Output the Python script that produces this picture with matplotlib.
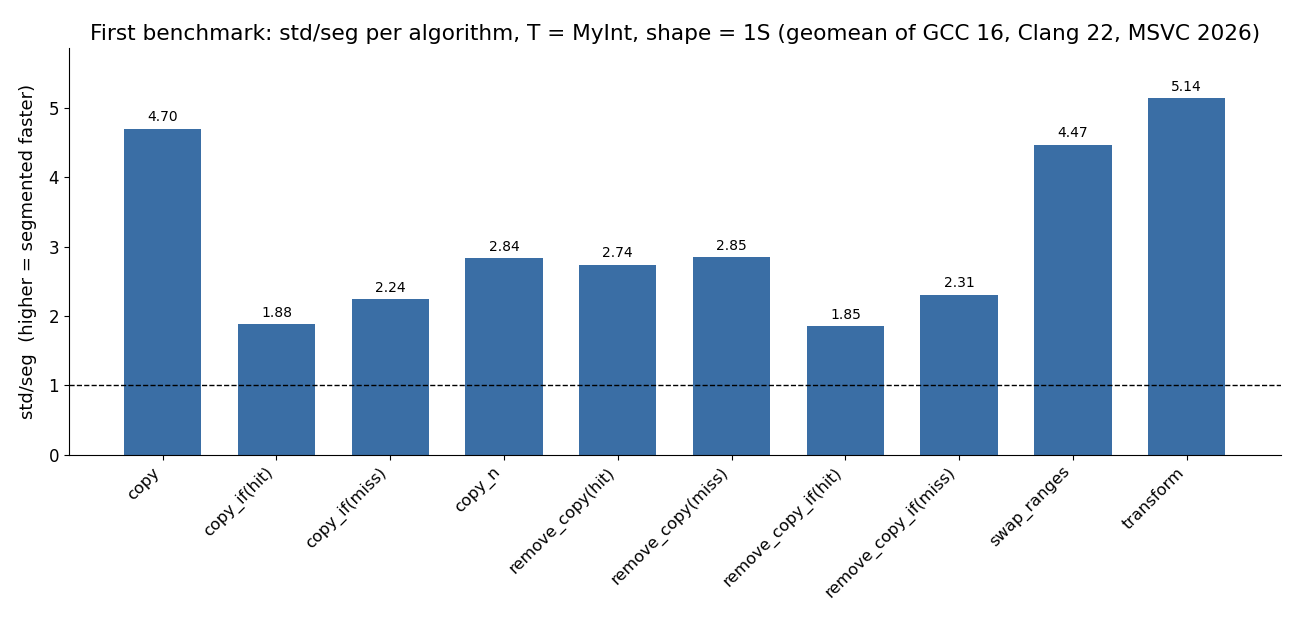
import matplotlib
matplotlib.use("Agg")
import matplotlib.pyplot as plt

algorithms = ["copy", "copy_if(hit)", "copy_if(miss)", "copy_n", "remove_copy(hit)",
              "remove_copy(miss)", "remove_copy_if(hit)", "remove_copy_if(miss)",
              "swap_ranges", "transform"]
ratios = [4.70, 1.88, 2.24, 2.84, 2.74, 2.85, 1.85, 2.31, 4.47, 5.14]

fig = plt.figure(figsize=(13, 6.24), dpi=100)
ax = fig.add_axes([0.053, 0.271, 0.932, 0.652])

x = range(len(algorithms))
bars = ax.bar(x, ratios, width=0.68, color="#3a6ea5")
ax.bar_label(bars, labels=[f"{v:.2f}" for v in ratios], padding=3, fontsize=10)
ax.axhline(1.0, color="black", linestyle="--", linewidth=1)

ax.set_xticks(list(x))
ax.set_xticklabels(algorithms, rotation=45, ha="right", fontsize=11.7)
ax.tick_params(axis="y", labelsize=12)
ax.set_ylim(0, max(ratios) * 1.14)
ax.set_ylabel("std/seg  (higher = segmented faster)", fontsize=13, labelpad=8)
ax.set_title("First benchmark: std/seg per algorithm, T = MyInt, shape = 1S (geomean of GCC 16, Clang 22, MSVC 2026)",
             fontsize=15.6)
ax.spines["top"].set_visible(False)
ax.spines["right"].set_visible(False)

fig.savefig("out.png", dpi=100)
